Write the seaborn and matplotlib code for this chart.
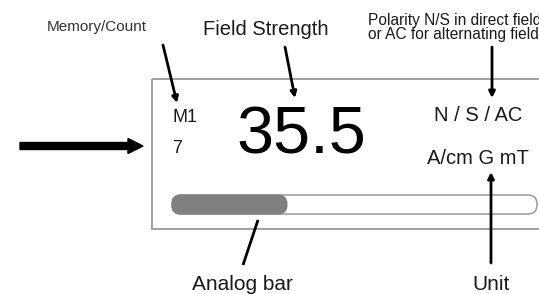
import matplotlib
matplotlib.use("Agg")
import matplotlib.pyplot as plt
import seaborn as sns
from matplotlib.patches import FancyBboxPatch, Rectangle

# display readout shown in the diagram
memory_label = "M1"
count_label = "7"
field_value = "35.5"
polarity_label = "N / S / AC"
unit_label = "A/cm G mT"
bar_fraction = 0.315  # filled part of analog bar

callouts = ["Memory/Count", "Field Strength",
            ["Polarity N/S in direct field", "or AC for alternating field"],
            "Analog bar", "Unit"]

sns.set_theme(style="white")
plt.rcParams['font.family'] = ['Liberation Sans', 'DejaVu Sans']

fig = plt.figure(figsize=(5.39, 2.94), dpi=100)
ax = fig.add_axes([0, 0, 1, 1])
ax.set_xlim(0, 539)
ax.set_ylim(294, 0)
ax.axis("off")

tc = "#1a1a1a"

# display frame
ax.add_patch(Rectangle((152, 79), 420, 150, fill=False, ec="#9a9a9a", lw=1.3))

# analog bar
x0, x1, y0, h = 172, 537, 195, 19
ax.add_patch(FancyBboxPatch((x0, y0), x1 - x0, h, boxstyle="round,pad=0,rounding_size=9",
                            fc="white", ec="#9a9a9a", lw=1.1))
ax.add_patch(FancyBboxPatch((x0, y0), (x1 - x0) * bar_fraction, h,
                            boxstyle="round,pad=0,rounding_size=9",
                            fc="#808080", ec="#808080", lw=0.8))

# readout texts
ax.text(172, 122, memory_label, fontsize=13, color=tc, va="baseline")
ax.text(172, 153, count_label, fontsize=13, color=tc, va="baseline")
ax.text(301, 153, field_value, fontsize=48, color="black", ha="center", va="baseline")
ax.text(478, 121, polarity_label, fontsize=14.5, color=tc, ha="center", va="baseline")
ax.text(478, 164, unit_label, fontsize=14.5, color=tc, ha="center", va="baseline")

# callout labels
ax.text(97, 31, callouts[0], fontsize=11, color="#333333", ha="center", va="baseline")
ax.text(266, 35, callouts[1], fontsize=14.5, color=tc, ha="center", va="baseline")
ax.text(368, 25, callouts[2][0], fontsize=11.2, color=tc, ha="left", va="baseline")
ax.text(368, 39, callouts[2][1], fontsize=11.2, color=tc, ha="left", va="baseline")
ax.text(242, 290, callouts[3], fontsize=15, color=tc, ha="center", va="baseline")
ax.text(491, 290, callouts[4], fontsize=15, color=tc, ha="center", va="baseline")

# callout arrows
arr = dict(arrowstyle="-|>", color="black", lw=2, mutation_scale=9, shrinkA=0, shrinkB=0)
ax.annotate("", xy=(177, 103), xytext=(163, 45), arrowprops=arr)
ax.annotate("", xy=(295, 98), xytext=(285, 47), arrowprops=arr)
ax.annotate("", xy=(492, 98), xytext=(492, 47), arrowprops=arr)
ax.annotate("", xy=(491, 172), xytext=(491, 263), arrowprops=arr)
ax.plot([258, 243], [220, 265], color="black", lw=2, solid_capstyle="butt")

# input arrow
ax.arrow(20, 146, 108, 0, width=7, head_width=15, head_length=15,
         length_includes_head=False, fc="black", ec="black")

fig.savefig("out.png", dpi=100)
